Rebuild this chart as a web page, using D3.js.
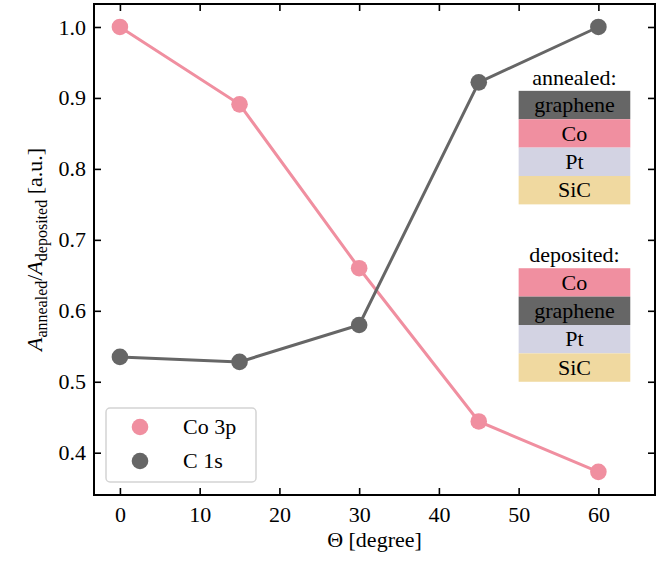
<!DOCTYPE html>
<html>
<head>
<meta charset="utf-8">
<script src="https://cdn.jsdelivr.net/npm/d3@7"></script>
</head>
<body style="margin:0;padding:0;background:#fff">
<svg id="chart" width="664" height="562"></svg>
<script>
// Emission angle (degrees)
const angles = [0, 15, 30, 45, 60];
// Normalised peak areas, annealed / deposited
const co3p = [1.0, 0.891, 0.66, 0.444, 0.373];
const c1s = [0.535, 0.528, 0.58, 0.922, 1.0];

const seriesNames = ["Co 3p", "C 1s"];
const seriesColors = ["#f08fa0", "#666666"];

const xTicks = [0, 10, 20, 30, 40, 50, 60];
const yTicks = [0.4, 0.5, 0.6, 0.7, 0.8, 0.9, 1.0];

// Layer stacks (top to bottom)
const annealedLayers = ["graphene", "Co", "Pt", "SiC"];
const depositedLayers = ["Co", "graphene", "Pt", "SiC"];
const layerColors = { graphene: "#666666", Co: "#f08fa0", Pt: "#d3d3e3", SiC: "#f0d9a0" };

const FONT = "Liberation Serif";
const svg = d3.select("#chart");
const margin = { left: 94, right: 9, top: 4, bottom: 67 };
const W = 664, H = 562;
const x = d3.scaleLinear().domain([-3.25, 67.1]).range([margin.left, W - margin.right]);
const y = d3.scaleLinear().domain([0.3404, 1.0324]).range([H - margin.bottom, margin.top]);

const tickLen = 7;
const fs = 22;

function label(sel) {
  return sel.attr("font-family", FONT).style("font-family", "'Liberation Serif'").attr("fill", "#000");
}

// Axes with inward ticks on all four sides
const axB = svg.append("g").attr("transform", `translate(0,${y.range()[0]})`)
  .call(d3.axisBottom(x).tickValues(xTicks).tickSizeInner(-tickLen).tickSizeOuter(0).tickPadding(11).tickFormat(d3.format("d")));
const axT = svg.append("g").attr("transform", `translate(0,${y.range()[1]})`)
  .call(d3.axisTop(x).tickValues(xTicks).tickSizeInner(-tickLen).tickSizeOuter(0).tickFormat(""));
const axL = svg.append("g").attr("transform", `translate(${x.range()[0]},0)`)
  .call(d3.axisLeft(y).tickValues(yTicks).tickSizeInner(-tickLen).tickSizeOuter(0).tickPadding(8).tickFormat(d3.format(".1f")));
const axR = svg.append("g").attr("transform", `translate(${x.range()[1]},0)`)
  .call(d3.axisRight(y).tickValues(yTicks).tickSizeInner(-tickLen).tickSizeOuter(0).tickFormat(""));

[axB, axT, axL, axR].forEach(g => {
  g.attr("font-family", FONT);
  g.select(".domain").remove();
  g.selectAll(".tick line").attr("stroke", "#000").attr("stroke-width", 1.6);
  label(g.selectAll(".tick text")).attr("font-size", fs);
});

// Frame
svg.append("rect")
  .attr("x", x.range()[0]).attr("y", y.range()[1])
  .attr("width", x.range()[1] - x.range()[0]).attr("height", y.range()[0] - y.range()[1])
  .attr("fill", "none").attr("stroke", "#000").attr("stroke-width", 2);

// Layer stack annotations
function drawStack(title, layers, top) {
  const g = svg.append("g");
  const step = 0.04;
  layers.forEach((name, i) => {
    const y0 = top - i * step, y1 = top - (i + 1) * step;
    g.append("rect")
      .attr("x", x(50)).attr("width", x(64) - x(50))
      .attr("y", y(y0)).attr("height", y(y1) - y(y0))
      .attr("fill", layerColors[name]);
    label(g.append("text"))
      .attr("x", x(57)).attr("y", (y(y0) + y(y1)) / 2)
      .attr("dy", "0.33em").attr("text-anchor", "middle")
      .attr("font-size", fs).text(name);
  });
  label(g.append("text"))
    .attr("x", x(57)).attr("y", y(top) - 6)
    .attr("text-anchor", "middle").attr("font-size", fs).text(title);
}
drawStack("annealed:", annealedLayers, 0.91);
drawStack("deposited:", depositedLayers, 0.66);

// Lines and markers
const line = d3.line().x((d, i) => x(angles[i])).y(d => y(d));
[co3p, c1s].forEach((vals, k) => {
  svg.append("path").datum(vals)
    .attr("d", line).attr("fill", "none")
    .attr("stroke", seriesColors[k]).attr("stroke-width", 3);
  svg.append("g").selectAll("circle").data(vals).join("circle")
    .attr("cx", (d, i) => x(angles[i])).attr("cy", d => y(d))
    .attr("r", 8.3).attr("fill", seriesColors[k]);
});

// Legend
const lg = svg.append("g");
lg.append("rect")
  .attr("x", 106).attr("y", 408).attr("width", 150).attr("height", 74)
  .attr("rx", 4).attr("fill", "#fff").attr("fill-opacity", 0.8)
  .attr("stroke", "#d4d4d4").attr("stroke-width", 1.5);
seriesNames.forEach((name, k) => {
  const cy = 427 + k * 34;
  lg.append("circle").attr("cx", 140).attr("cy", cy).attr("r", 8.3).attr("fill", seriesColors[k]);
  label(lg.append("text")).attr("x", 183).attr("y", cy).attr("dy", "0.33em")
    .attr("font-size", fs).text(name);
});

// Axis titles
label(svg.append("text"))
  .attr("x", (x.range()[0] + x.range()[1]) / 2).attr("y", 547)
  .attr("text-anchor", "middle").attr("font-size", fs).text("Θ [degree]");

const yl = label(svg.append("text"))
  .attr("transform", `translate(42,${(y.range()[0] + y.range()[1]) / 2}) rotate(-90)`)
  .attr("text-anchor", "middle").attr("font-size", fs);
yl.append("tspan").attr("font-style", "italic").text("A");
yl.append("tspan").attr("font-size", 16).attr("dy", 5).text("annealed");
yl.append("tspan").attr("dy", -5).text("/");
yl.append("tspan").attr("font-style", "italic").text("A");
yl.append("tspan").attr("font-size", 16).attr("dy", 5).text("deposited");
yl.append("tspan").attr("dy", -5).text(" [a.u.]");
</script>
</body>
</html>
